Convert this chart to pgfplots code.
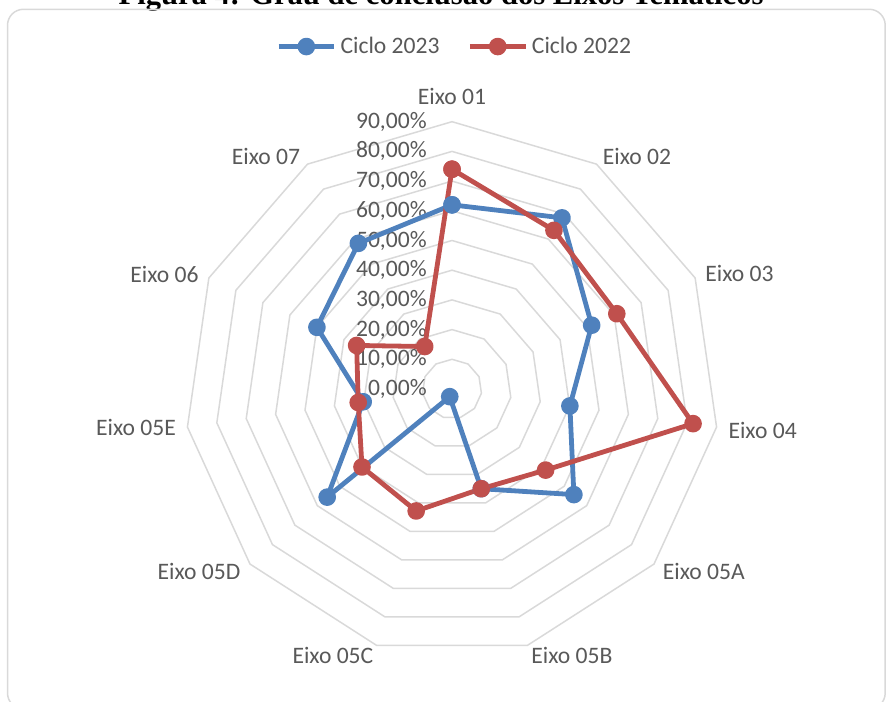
\documentclass[border=0pt]{standalone}
\usepackage{pgfplots}
\pgfplotsset{compat=1.18}
\usepackage{fontspec}
\setmainfont{Carlito}
\newfontfamily\titlefont{Liberation Serif}
\definecolor{azul}{HTML}{4F81BD}
\definecolor{verm}{HTML}{C0504D}
\definecolor{grade}{HTML}{D9D9D9}
\definecolor{texto}{HTML}{595959}
\newcommand{\lbl}{\fontsize{11.8}{14}\selectfont}

\begin{document}
\begin{tikzpicture}
\useasboundingbox (0,0) rectangle (443.5pt,350.5pt);
\clip (0,0) rectangle (443.5pt,350.5pt);

% titulo (cortado no topo, como no original)
\node[anchor=base, inner sep=0pt, font=\titlefont\fontsize{15.3}{18}\selectfont\bfseries]
  at (220.5pt,348.25pt) {Figura 4: Grau de conclusão dos Eixos Temáticos};

% moldura
\draw[grade, line width=0.75pt, rounded corners=8pt] (3.75pt,-4pt) rectangle (442.6pt,345.85pt);

\begin{axis}[
  at={(226pt,156pt)}, anchor=origin,
  x=1.485pt, y=1.485pt,
  xmin=-110, xmax=110, ymin=-110, ymax=110,
  hide axis, clip=false,
  legend columns=2,
  legend style={at={(axis cs:1.2,115.3)}, anchor=center, draw=none, fill=none,
    font=\lbl, text=texto,
    /tikz/every even column/.append style={column sep=12pt}},
  legend image code/.code={
    \draw[mark repeat=2, mark phase=2, #1] plot coordinates {(0pt,0pt) (13.9pt,0pt) (27.8pt,0pt)};
  },
]

% grade poligonal (11 eixos)
\pgfplotsinvokeforeach{10,20,...,90}{
  \addplot[grade, line width=0.75pt, data cs=polar, forget plot, mark=none]
    coordinates {(90,#1) (57.2727,#1) (24.5455,#1) (-8.1818,#1) (-40.9091,#1)
      (-73.6364,#1) (-106.3636,#1) (-139.0909,#1) (-171.8182,#1) (-204.5455,#1)
      (-237.2727,#1) (90,#1)};
}

% rotulos do eixo radial
\pgfplotsinvokeforeach{0,10,...,90}{
  \node[anchor=east, font=\lbl, text=texto, inner sep=0pt] at (axis cs:-8.4,#1) {#1,00\%};
}

% Ciclo 2023
\addplot[azul, line width=2.4pt, line join=round, mark=*, mark size=3.2pt, data cs=polar]
  coordinates {(90,62.0) (57.2727,68.5) (24.5455,51.7) (-8.1818,40.1) (-40.9091,54.3)
    (-73.6364,35.0) (-106.3636,2.7) (-139.0909,55.6) (-171.8182,30.2) (-204.5455,50.0)
    (-237.2727,58.3) (90,62.0)};
\addlegendentry{Ciclo 2023}

% Ciclo 2022
\addplot[verm, line width=2.4pt, line join=round, mark=*, mark size=3.2pt, data cs=polar]
  coordinates {(90,74.0) (57.2727,63.5) (24.5455,61.0) (-8.1818,82.0) (-40.9091,41.7)
    (-73.6364,35.0) (-106.3636,42.8) (-139.0909,40.1) (-171.8182,31.9) (-204.5455,35.3)
    (-237.2727,17.0) (90,74.0)};
\addlegendentry{Ciclo 2022}

% nomes dos eixos
\node[font=\lbl, text=texto] at (axis cs:0,98.65) {Eixo 01};
\node[font=\lbl, text=texto] at (axis cs:62.3,78.45) {Eixo 02};
\node[font=\lbl, text=texto] at (axis cs:96.8,39.06) {Eixo 03};
\node[font=\lbl, text=texto] at (axis cs:104.6,-13.8) {Eixo 04};
\node[font=\lbl, text=texto] at (axis cs:84.8,-61.3) {Eixo 05A};
\node[font=\lbl, text=texto] at (axis cs:40.4,-89.6) {Eixo 05B};
\node[font=\lbl, text=texto] at (axis cs:-40.1,-89.6) {Eixo 05C};
\node[font=\lbl, text=texto] at (axis cs:-85.2,-61.3) {Eixo 05D};
\node[font=\lbl, text=texto] at (axis cs:-106.4,-13.1) {Eixo 05E};
\node[font=\lbl, text=texto] at (axis cs:-96.8,38.7) {Eixo 06};
\node[font=\lbl, text=texto] at (axis cs:-62.6,78.45) {Eixo 07};
\end{axis}
\end{tikzpicture}
\end{document}
